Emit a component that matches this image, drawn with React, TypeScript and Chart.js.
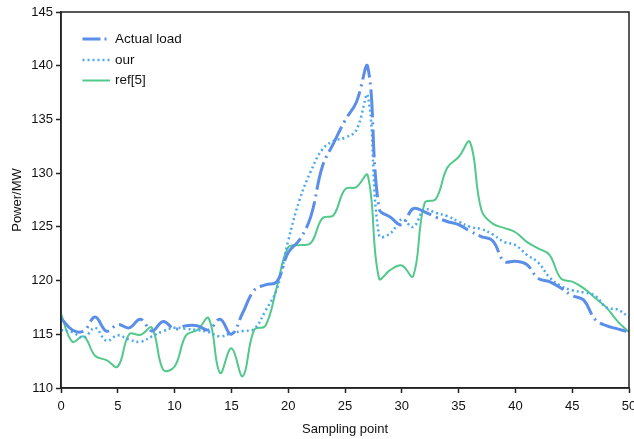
import React, { useEffect, useRef } from "react";
import { Chart, registerables } from "chart.js";

Chart.register(...registerables);

const samplingPoints = [0, 1, 2, 3, 4, 5, 6, 7, 8, 9, 10, 11, 12, 13, 14, 15, 16, 17, 18, 19, 20, 21, 22, 23, 24, 25, 26, 27, 28, 29, 30, 31, 32, 33, 34, 35, 36, 37, 38, 39, 40, 41, 42, 43, 44, 45, 46, 47, 48, 49, 50];

const actualLoad = [116.5, 115.4, 115.3, 116.6, 115.3, 115.9, 115.6, 116.4, 115.3, 116.2, 115.5, 115.8, 115.8, 115.4, 116.4, 115.0, 117.0, 119.1, 119.6, 119.9, 122.6, 123.8, 126.0, 130.6, 132.8, 134.9, 136.6, 139.9, 126.7, 125.9, 125.2, 126.7, 126.4, 125.9, 125.5, 125.2, 124.6, 124.1, 123.7, 121.8, 121.8, 121.5, 120.2, 119.9, 119.3, 118.6, 118.2, 116.4, 115.8, 115.5, 115.2];

const ourPred = [115.4, 115.2, 114.7, 115.6, 114.4, 114.9, 114.5, 114.3, 114.8, 115.3, 115.6, 115.5, 115.4, 115.2, 114.8, 115.1, 115.3, 115.5, 117.2, 119.2, 123.7, 127.5, 130.2, 132.2, 133.0, 133.3, 134.0, 137.2, 124.2, 124.4, 125.7, 125.0, 126.6, 126.3, 126.0, 125.5, 125.0, 124.8, 124.3, 123.6, 123.3, 122.4, 121.7, 120.3, 119.5, 119.1, 118.9, 118.6, 117.5, 117.3, 116.6];

const ref5Pred = [116.9, 114.3, 114.8, 113.0, 112.6, 112.0, 115.0, 114.95, 115.6, 111.7, 112.0, 114.9, 115.4, 116.5, 111.4, 113.7, 111.1, 115.4, 115.8, 119.4, 123.1, 123.3, 123.5, 125.8, 126.1, 128.5, 128.7, 129.8, 120.2, 121.0, 121.4, 120.4, 127.2, 127.6, 130.5, 131.5, 132.9, 126.6, 125.3, 124.9, 124.5, 123.6, 123.0, 122.4, 120.2, 119.9, 119.3, 118.4, 117.5, 116.2, 115.2];

const seriesNames = ["Actual load", "our", "ref[5]"];
const xTitle = "Sampling point";
const yTitle = "Power/MW";

const FONT = "'Liberation Sans', Arial, Helvetica, sans-serif";

const styles = [
  { color: "#5A8EE8", width: 3, dash: [28, 5, 2, 5] },
  { color: "#4BA9F0", width: 2.5, dash: [2, 3] },
  { color: "#52C98A", width: 2, dash: [] as number[] },
];

const frameAndLegend = {
  id: "frameAndLegend",
  afterDraw(chart: any) {
    const { ctx, chartArea } = chart;
    ctx.save();
    ctx.strokeStyle = "#222";
    ctx.lineWidth = 1.5;
    ctx.setLineDash([]);
    ctx.strokeRect(chartArea.left, chartArea.top, chartArea.right - chartArea.left, chartArea.bottom - chartArea.top);
    const rows = [39, 60, 80.5];
    const legendDash = [[18, 4, 2, 4], [2, 3], []];
    chart.data.datasets.forEach((ds: any, i: number) => {
      const y = rows[i];
      ctx.beginPath();
      ctx.strokeStyle = ds.borderColor;
      ctx.lineWidth = ds.borderWidth;
      ctx.setLineDash(legendDash[i]);
      ctx.moveTo(82.5, y);
      ctx.lineTo(110, y);
      ctx.stroke();
      ctx.setLineDash([]);
      ctx.fillStyle = "#111";
      ctx.font = `13.5px ${FONT}`;
      ctx.textBaseline = "middle";
      ctx.textAlign = "left";
      ctx.fillText(ds.label, 115, y);
    });
    ctx.restore();
  },
};

export default function App() {
  const ref = useRef<HTMLCanvasElement>(null);
  useEffect(() => {
    document.body.style.margin = "0";
    if (!ref.current) return;
    const seriesData = [actualLoad, ourPred, ref5Pred];
    const chart = new Chart(ref.current, {
      type: "line",
      data: {
        datasets: seriesData.map((vals, i) => ({
          label: seriesNames[i],
          data: samplingPoints.map((x, j) => ({ x, y: vals[j] })),
          borderColor: styles[i].color,
          backgroundColor: styles[i].color,
          borderWidth: styles[i].width,
          borderDash: styles[i].dash,
          pointRadius: 0,
          tension: 0.4,
          fill: false,
        })),
      },
      options: {
        responsive: false,
        animation: false,
        layout: { padding: { top: 12, right: 5, left: 0, bottom: 0 } },
        plugins: { legend: { display: false }, tooltip: { enabled: false } },
        scales: {
          x: {
            type: "linear",
            min: 0,
            max: 50,
            afterFit: (s: any) => {
              s.height = 51;
              s.paddingLeft = 0;
              s.paddingRight = 0;
            },
            ticks: { stepSize: 5, color: "#111", font: { size: 13, family: FONT }, padding: 6, maxRotation: 0 },
            grid: { drawOnChartArea: false, drawTicks: true, tickLength: 5, color: "#222", tickWidth: 1.5 },
            border: { display: true, color: "#222", width: 1.5 },
            title: { display: true, text: xTitle, color: "#111", font: { size: 13, family: FONT }, padding: { top: 4, bottom: 2 } },
          },
          y: {
            type: "linear",
            min: 110,
            max: 145,
            afterFit: (s: any) => {
              s.width = 61;
              s.paddingTop = 0;
              s.paddingBottom = 0;
            },
            ticks: { stepSize: 5, color: "#111", font: { size: 13, family: FONT }, padding: 3 },
            grid: { drawOnChartArea: false, drawTicks: true, tickLength: 5, color: "#222", tickWidth: 1.5 },
            border: { display: true, color: "#222", width: 1.5 },
            title: { display: true, text: yTitle, color: "#111", font: { size: 13, family: FONT }, padding: { top: 10, bottom: 0 } },
          },
        },
      },
      plugins: [frameAndLegend],
    } as any);
    return () => chart.destroy();
  }, []);
  return (
    <div style={{ width: 634, height: 439 }}>
      <canvas ref={ref} width={634} height={439} style={{ width: 634, height: 439, display: "block" }} />
    </div>
  );
}
